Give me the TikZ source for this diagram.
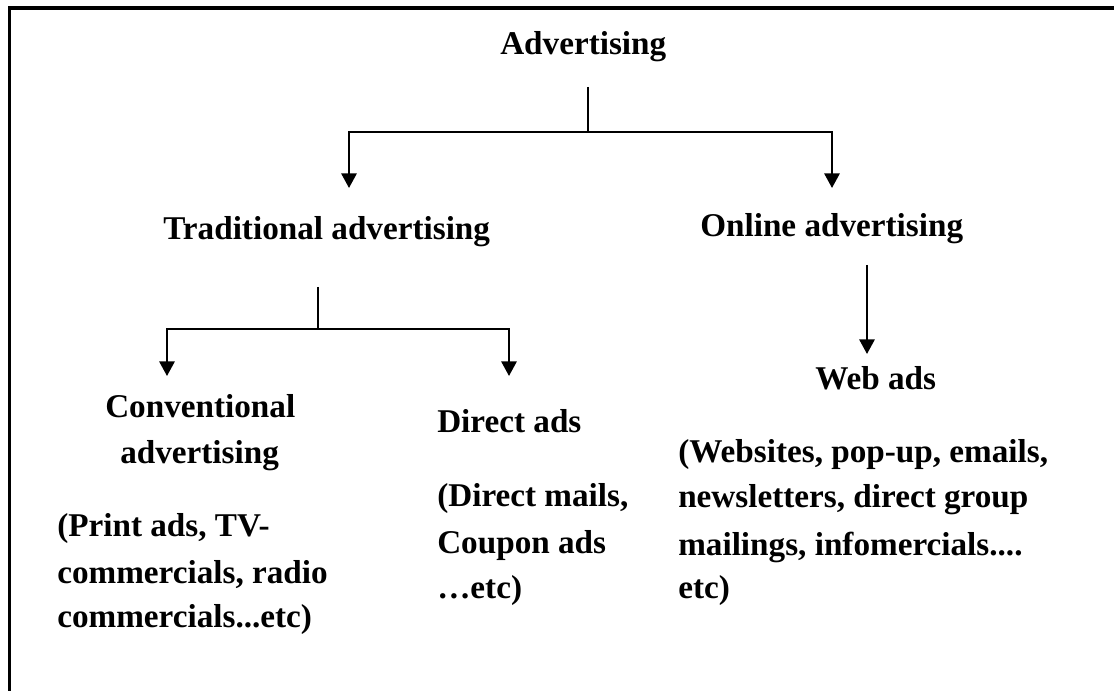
\documentclass[tikz,border=0pt]{standalone}
\usepackage{fontspec}
\setmainfont{Liberation Serif}
\usetikzlibrary{arrows.meta}
\begin{document}
\begin{tikzpicture}[x=0.75pt,y=-0.75pt,
  lbl/.style={anchor=base west,inner sep=0pt,font=\fontsize{24.9pt}{30pt}\selectfont\bfseries},
  link/.style={line width=1.6pt},
  arr/.style={link,-{Triangle[width=11.5pt,length=11pt]}},
  frame/.style={line width=2.7pt}]
\useasboundingbox (0,0) rectangle (1114,691);
% outer frame (top and left edges)
\coordinate (fb) at (9.5,695);
\coordinate (fc) at (9.5,7.8);
\coordinate (fr) at (1118,7.8);
\draw[frame] (fb) -- (fc) -- (fr);

% level 0
\node[lbl] (adv) at (500,55) {Advertising};
% level 1
\node[lbl] (trad) at (163,240) {Traditional advertising};
\node[lbl] (onl) at (700,237) {Online advertising};
% level 2, left
\node[lbl] (conv1) at (105,418) {Conventional};
\node[lbl] (conv2) at (120,464) {advertising};
\node[lbl] (pr1) at (57,537) {(Print ads, TV-};
\node[lbl] (pr2) at (57,583) {commercials, radio};
\node[lbl] (pr3) at (57,627) {commercials...etc)};
% level 2, middle
\node[lbl] (dir) at (437,433) {Direct ads};
\node[lbl] (dm1) at (437,507) {(Direct mails,};
\node[lbl] (dm2) at (437,553) {Coupon ads};
\node[lbl] (dm3) at (437,598) {…etc)};
% level 2, right
\node[lbl] (web) at (815,390) {Web ads};
\node[lbl] (wb1) at (678,463) {(Websites, pop-up, emails,};
\node[lbl] (wb2) at (678,508) {newsletters, direct group};
\node[lbl] (wb3) at (678,555) {mailings, infomercials....};
\node[lbl] (wb4) at (678,598) {etc)};

% junction points
\coordinate (a0) at (588,87);
\coordinate (a1) at (588,132);
\coordinate (tL) at (349,188);
\coordinate (tR) at (832,188);
\coordinate (b0) at (318,287);
\coordinate (b1) at (318,329);
\coordinate (uL) at (167,376);
\coordinate (uR) at (509,376);
\coordinate (c0) at (867,265);
\coordinate (c1) at (867,354);

% connectors
\draw[link] (a0) -- (a1);
\draw[arr] (a1) -| (tL);
\draw[arr] (a1) -| (tR);
\draw[link] (b0) -- (b1);
\draw[arr] (b1) -| (uL);
\draw[arr] (b1) -| (uR);
\draw[arr] (c0) -- (c1);
\end{tikzpicture}
\end{document}
